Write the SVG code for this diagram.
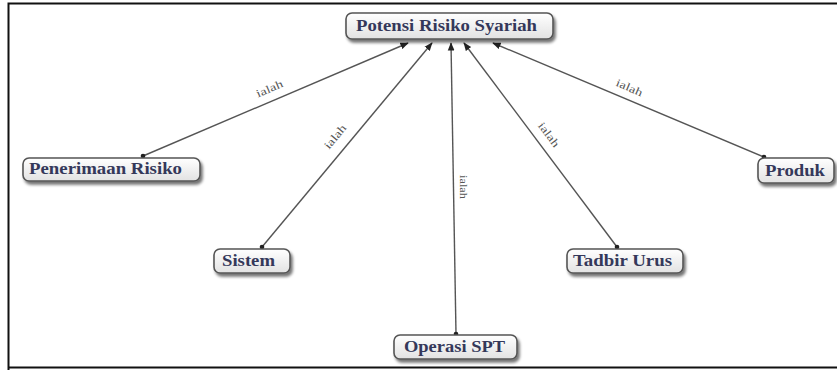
<svg xmlns="http://www.w3.org/2000/svg" width="837" height="371" viewBox="0 0 837 371">
<defs>
<linearGradient id="g" x1="0" y1="0" x2="0" y2="1">
<stop offset="0" stop-color="#ffffff"/>
<stop offset="1" stop-color="#e2e2e2"/>
</linearGradient>
<filter id="sh" x="-20%" y="-30%" width="140%" height="180%">
<feGaussianBlur in="SourceAlpha" stdDeviation="1.5"/>
<feOffset dx="2" dy="3" result="b"/>
<feComponentTransfer><feFuncA type="linear" slope="0.55"/></feComponentTransfer>
<feMerge><feMergeNode/><feMergeNode in="SourceGraphic"/></feMerge>
</filter>
<marker id="arr" viewBox="0 0 10 10" refX="9" refY="5" markerWidth="6" markerHeight="6" orient="auto">
<path d="M0,1 L10,5 L0,9 z" fill="#222"/>
</marker>
<marker id="dot" viewBox="0 0 6 6" refX="3" refY="3" markerWidth="4" markerHeight="4">
<circle cx="3" cy="3" r="2.5" fill="#222"/>
</marker>
</defs>
<style>
.box{fill:url(#g);stroke:#555;stroke-width:1.6;filter:url(#sh)}
.t{font-family:"Liberation Serif","DejaVu Serif",serif;font-weight:bold;font-size:16px;fill:#34385a}
.c{stroke:#555;stroke-width:1.4;fill:none;marker-start:url(#dot);marker-end:url(#arr)}
.l{font-family:"Liberation Serif","DejaVu Serif",serif;font-size:11px;fill:#555;text-anchor:middle}
</style>
<rect x="0" y="0" width="837" height="371" fill="#fff"/>
<path d="M8.5,370 L8.5,3.5 L837,3.5 M8,367.5 L837,367.5" fill="none" stroke="#111" stroke-width="2"/>
<g id="connectors">
<line class="c" x1="143" y1="156" x2="408" y2="43"/>
<line class="c" x1="262" y1="247" x2="432" y2="43"/>
<line class="c" x1="456" y1="334" x2="451" y2="43"/>
<line class="c" x1="617" y1="247" x2="464" y2="43"/>
<line class="c" x1="764" y1="157" x2="493" y2="43"/>
<text class="l" transform="translate(271,92) rotate(-23)" textLength="28" lengthAdjust="spacingAndGlyphs">ialah</text>
<text class="l" transform="translate(338,139) rotate(-50)" textLength="28" lengthAdjust="spacingAndGlyphs">ialah</text>
<text class="l" transform="translate(460,187) rotate(90)" textLength="24" lengthAdjust="spacingAndGlyphs">ialah</text>
<text class="l" transform="translate(546,137) rotate(53)" textLength="28" lengthAdjust="spacingAndGlyphs">ialah</text>
<text class="l" transform="translate(628,91) rotate(23)" textLength="28" lengthAdjust="spacingAndGlyphs">ialah</text>
</g>
<g id="n-potensi"><rect class="box" x="346" y="13" width="207" height="26" rx="6"/><text class="t" x="356" y="31" textLength="181" lengthAdjust="spacingAndGlyphs">Potensi Risiko Syariah</text></g>
<g id="n-penerimaan"><rect class="box" x="23" y="158" width="177" height="23" rx="6"/><text class="t" x="29" y="174" textLength="153" lengthAdjust="spacingAndGlyphs">Penerimaan Risiko</text></g>
<g id="n-sistem"><rect class="box" x="214" y="249" width="76" height="24" rx="6"/><text class="t" x="222" y="266" textLength="53" lengthAdjust="spacingAndGlyphs">Sistem</text></g>
<g id="n-operasi"><rect class="box" x="394" y="335" width="123" height="24" rx="6"/><text class="t" x="404" y="352" textLength="101" lengthAdjust="spacingAndGlyphs">Operasi SPT</text></g>
<g id="n-tadbir"><rect class="box" x="567" y="249" width="116" height="24" rx="6"/><text class="t" x="573" y="266" textLength="99" lengthAdjust="spacingAndGlyphs">Tadbir Urus</text></g>
<g id="n-produk"><rect class="box" x="758" y="158" width="76" height="25" rx="6"/><text class="t" x="765" y="176" textLength="60" lengthAdjust="spacingAndGlyphs">Produk</text></g>
</svg>
